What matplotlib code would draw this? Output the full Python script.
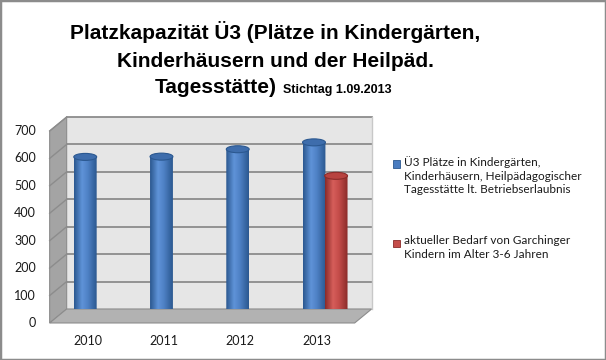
import numpy as np
import matplotlib.pyplot as plt
from matplotlib.patches import Polygon, Ellipse, Rectangle
from matplotlib.colors import LinearSegmentedColormap

# ── Data ────────────────────────────────────────────────────────────────
years = ['2010', '2011', '2012', '2013']
plaetze = [580, 581, 608, 633]          # Ü3 Plätze lt. Betriebserlaubnis
bedarf_year = '2013'
bedarf = 511                            # aktueller Bedarf (nur 2013)
y_ticks = [0, 100, 200, 300, 400, 500, 600, 700]

label_plaetze = ('Ü3 Plätze in Kindergärten,\nKinderhäusern, Heilpädagogischer\n'
                 'Tagesstätte lt. Betriebserlaubnis')
label_bedarf = 'aktueller Bedarf von Garchinger\nKindern im Alter 3-6 Jahren'

# ── Style ───────────────────────────────────────────────────────────────
plt.rcParams['font.family'] = ['Lato', 'DejaVu Sans']
TITLE_FONT = ['Liberation Sans', 'DejaVu Sans']

blue_cmap = LinearSegmentedColormap.from_list(
    'blue_cyl', [(0, '#2b5890'), (0.35, '#5f93d8'), (0.6, '#4f82c6'), (1, '#2b5890')])
red_cmap = LinearSegmentedColormap.from_list(
    'red_cyl', [(0, '#8a2b29'), (0.35, '#d65e5a'), (0.6, '#c54d4a'), (1, '#8a2b29')])

fig = plt.figure(figsize=(6.06, 3.6), dpi=100)
ax = fig.add_axes([0.110, 0.1417, 0.5033, 0.5333])
ax.set_facecolor('#e6e6e6')
for s in ax.spines.values():
    s.set_visible(False)
ax.set_xticks([])
ax.set_yticks([])

YMAX = 700
NCAT = len(years)
DX, DY = -0.223, -51.0          # full depth of the 3D box (data units)
BW, EH = 0.30, 25.5             # cylinder width / ellipse height
OFF = 0.145                     # series offset inside a category

# left wall + floor
ax.add_patch(Polygon([(0, 0), (0, YMAX), (DX, YMAX + DY), (DX, DY)],
                     fc='#a4a4a4', ec='#8c8c8c', lw=0.8, zorder=0.5, clip_on=False))
ax.add_patch(Polygon([(0, 0), (NCAT, 0), (NCAT + DX, DY), (DX, DY)],
                     fc='#b2b2b2', ec='#8c8c8c', lw=0.8, zorder=0.5, clip_on=False))

# gridlines on back wall and left wall
for v in y_ticks[1:]:
    ax.plot([0, NCAT], [v, v], color='#8c8c8c', lw=1.3, zorder=1, clip_on=False)
    ax.plot([DX, 0], [v + DY, v], color='#8c8c8c', lw=1.0, zorder=1, clip_on=False)
ax.plot([NCAT, NCAT], [0, YMAX], color='#c8c8c8', lw=1.0, zorder=1, clip_on=False)


def cylinder(xc, h, cmap, top_fc, top_ec, z):
    x0, x1 = xc - BW / 2, xc + BW / 2
    y0, y1 = DY / 2, h + DY / 2
    t = np.linspace(0, np.pi, 40)
    arc = list(zip(xc - BW / 2 * np.cos(t), y0 - EH / 2 * np.sin(t)))
    clip = Polygon([(x0, y1)] + arc + [(x1, y1)], closed=True,
                   transform=ax.transData, fc='none', ec='none')
    grad = np.linspace(0, 1, 64).reshape(1, -1)
    im = ax.imshow(grad, cmap=cmap, extent=[x0, x1, y0 - EH / 2, y1],
                   aspect='auto', origin='lower', zorder=z, interpolation='bilinear')
    im.set_clip_path(clip)
    im.set_clip_box(None)
    ax.add_patch(Ellipse((xc, y1), BW, EH, fc=top_fc, ec=top_ec, lw=0.8,
                         zorder=z + 0.1, clip_on=False))


for i, v in enumerate(plaetze):
    cylinder(i + 0.5 - OFF + DX / 2, v, blue_cmap, '#3e6dac', '#2b5890', 3)
j = years.index(bedarf_year)
cylinder(j + 0.5 + OFF + DX / 2, bedarf, red_cmap, '#b8423f', '#8a2b29', 4)

ax.set_xlim(0, NCAT)
ax.set_ylim(0, YMAX)

# axis labels on the front edge
for v in y_ticks:
    ax.annotate(str(v), xy=(DX, v + DY), xytext=(-10, 0), textcoords='offset points',
                ha='right', va='center', fontsize=9, color='#1a1a1a', annotation_clip=False)
for i, yr in enumerate(years):
    ax.annotate(yr, xy=(i + 0.5 + DX, DY), xytext=(0, -8.5), textcoords='offset points',
                ha='center', va='top', fontsize=9, color='#1a1a1a', annotation_clip=False)

# title
tx = 275 / 606
fig.text(tx, 1 - 39.3 / 360, 'Platzkapazität Ü3 (Plätze in Kindergärten,', ha='center',
         va='baseline', fontsize=15, fontweight='bold', family=TITLE_FONT)
fig.text(tx, 1 - 66.7 / 360, 'Kinderhäusern und der Heilpäd.', ha='center',
         va='baseline', fontsize=15, fontweight='bold', family=TITLE_FONT)
fig.text(277 / 606, 1 - 92.7 / 360, 'Tagesstätte)', ha='right',
         va='baseline', fontsize=15, fontweight='bold', family=TITLE_FONT)
fig.text(283 / 606, 1 - 92.7 / 360, 'Stichtag 1.09.2013', ha='left',
         va='baseline', fontsize=9, fontweight='bold', family=TITLE_FONT)

# legend
for ytop, fc, ec, lab in [(164, '#4a7cc0', '#2b5890', label_plaetze),
                          (243, '#c54d4a', '#8a2b29', label_bedarf)]:
    fig.add_artist(Rectangle((393 / 606, 1 - (ytop + 3.5) / 360), 7 / 606, 7 / 360,
                             transform=fig.transFigure, fc=fc, ec=ec, lw=0.6))
    fig.text(404 / 606, 1 - (ytop - 7.5) / 360, lab, ha='left', va='top', fontsize=8.5,
             color='#1a1a1a', linespacing=1.28)

# outer border
fig.add_artist(Rectangle((0, 0), 1, 1, transform=fig.transFigure, fill=False,
                         ec='#8c8c8c', lw=2.5))

fig.savefig('out.png', dpi=100, facecolor='white')
